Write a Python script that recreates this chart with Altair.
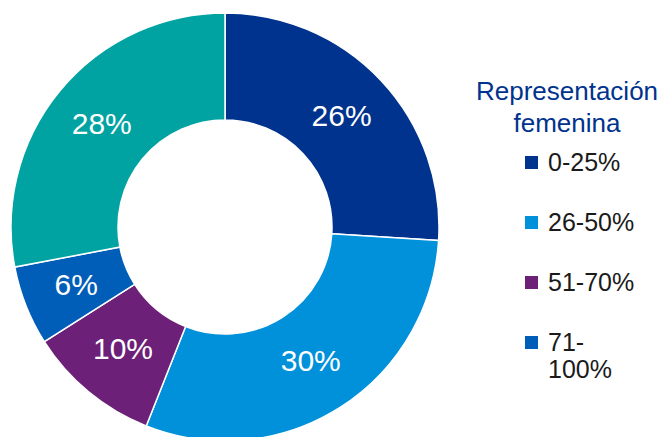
import altair as alt
import pandas as pd

categories = ["0-25%", "26-50%", "51-70%", "71-100%", "Sin dato"]
values = [26, 30, 10, 6, 28]
labels = ["26%", "30%", "10%", "6%", "28%"]
colors = ["#00338D", "#0091DA", "#6D2077", "#005EB8", "#00A3A1"]
legend_values = ["0-25%", "26-50%", "51-70%", "71-100%"]

df = pd.DataFrame({
    "cat": categories,
    "val": values,
    "label": labels,
    "ord": list(range(len(categories))),
})

base = alt.Chart(df).encode(
    theta=alt.Theta("val:Q", stack=True),
    order=alt.Order("ord:Q"),
)

arcs = base.mark_arc(
    x=217, y=219, outerRadius=214, innerRadius=107,
    stroke="white", strokeWidth=1.5,
).encode(
    color=alt.Color(
        "cat:N",
        scale=alt.Scale(domain=categories, range=colors),
        sort=categories,
        legend=alt.Legend(
            values=legend_values,
            title=["Representación", "femenina"],
            titleColor="#00338D",
            titleFont="Liberation Sans",
            titleFontSize=26,
            titleFontWeight="normal",
            titleLineHeight=32,
            titleAlign="center",
            titleAnchor="middle",
            titleLimit=400,
            titlePadding=13,
            labelFont="Liberation Sans",
            labelFontSize=25,
            labelColor="#1a1a1a",
            labelOffset=4,
            labelLimit=300,
            labelExpr="datum.label == '71-100%' ? ['71-', '100%'] : datum.label",
            symbolType="square",
            symbolSize=169,
            symbolStrokeWidth=0,
            symbolOffset=19,
            rowPadding=34,
            orient="none",
            legendX=468,
            legendY=71,
        ),
    ),
)

text = base.mark_text(
    x=217, y=219, radius=160, color="white",
    font="Liberation Sans", fontSize=30,
).encode(text="label:N")

chart = (arcs + text).properties(
    width=650, height=429,
    autosize=alt.AutoSizeParams(type="none"),
    padding=0,
).configure_view(stroke=None)

chart.save("out.html", embed_options={"renderer": "svg", "actions": False})
